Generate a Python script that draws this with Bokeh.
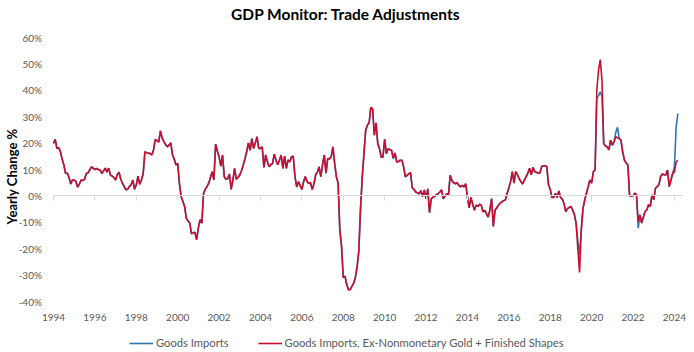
import numpy as np
from bokeh.plotting import figure
from bokeh.models import (ColumnDataSource, FixedTicker, LinearAxis, Legend, LegendItem,
                          PrintfTickFormatter, CustomJSTickFormatter, Label)
from bokeh.embed import file_html
from bokeh.resources import INLINE

title_text = "GDP Monitor: Trade Adjustments"
y_axis_title = "Yearly Change %"
series_names = ["Goods Imports", "Goods Imports, Ex-Nonmonetary Gold + Finished Shapes"]
year_ticks = list(range(1994, 2025, 2))
pct_ticks = [-40, -30, -20, -10, 0, 10, 20, 30, 40, 50, 60]
start_year = 1994

# Goods Imports, Ex-Nonmonetary Gold + Finished Shapes (yearly % change, monthly, Jan..Dec)
red_1994 = [19.9, 21.4, 17.9, 18.3, 16.7, 14.0, 11.7, 8.5, 8.7, 7.0, 4.5, 6.0]
red_1995 = [6.0, 5.5, 3.3, 4.5, 6.0, 5.8, 6.3, 8.5, 8.7, 9.8, 11.0, 10.5]
red_1996 = [10.0, 10.4, 10.0, 9.8, 8.5, 9.5, 10.5, 9.0, 10.5, 7.9, 7.5, 7.0]
red_1997 = [6.0, 8.0, 9.0, 6.3, 4.8, 3.5, 2.3, 2.5, 3.5, 4.2, 6.0, 2.5]
red_1998 = [4.2, 7.5, 4.4, 6.0, 8.5, 16.7, 16.4, 16.1, 16.1, 15.5, 17.4, 21.4]
red_1999 = [20.9, 20.4, 24.6, 22.0, 20.5, 19.5, 18.6, 19.2, 20.1, 15.5, 14.0, 11.7]
red_2000 = [12.3, 4.8, -0.3, -2.0, -4.0, -8.4, -9.5, -10.3, -14.3, -14.0, -13.8, -16.6]
red_2001 = [-12.0, -9.0, -10.3, 1.0, 2.5, 3.5, 4.8, 7.0, 9.2, 6.0, 19.6, 17.0]
red_2002 = [14.8, 11.3, 15.5, 7.3, 6.3, 6.5, 8.3, 2.5, 6.0, 10.4, 6.3, 7.0]
red_2003 = [7.9, 9.5, 11.7, 14.0, 16.7, 20.1, 17.3, 21.7, 18.0, 20.0, 22.4, 18.0]
red_2004 = [18.0, 18.6, 10.8, 15.5, 13.0, 11.0, 11.8, 12.3, 15.8, 13.5, 11.8, 13.5]
red_2005 = [15.5, 10.4, 15.1, 10.4, 13.6, 12.9, 14.8, 15.0, 7.3, 3.4, 5.4, 4.0]
red_2006 = [2.4, 5.4, 7.3, 5.5, 4.7, 5.0, 2.4, 4.5, 8.0, 9.0, 11.0, 7.3]
red_2007 = [11.8, 15.5, 8.6, 14.2, 14.0, 14.8, 18.6, 12.3, 7.3, 4.9, -12.8, -19.0]
red_2008 = [-31.0, -30.4, -33.6, -35.5, -35.5, -34.3, -33.0, -31.0, -27.0, -21.0, -5.0, 7.0]
red_2009 = [16.0, 24.9, 26.8, 27.7, 33.5, 33.0, 23.0, 27.7, 19.8, 17.9, 14.7, 14.7]
red_2010 = [21.4, 16.0, 17.9, 17.5, 17.3, 14.2, 16.3, 12.8, 13.0, 13.5, 13.5, 11.0]
red_2011 = [7.2, 7.8, 8.4, 8.8, 3.0, 2.5, 1.5, 1.2, 0.8, 2.0, -0.2, 2.3]
red_2012 = [-1.1, 2.7, -6.3, -1.1, -0.5, -0.2, 0.5, 0.8, 1.5, 2.3, -1.1, 0.0]
red_2013 = [0.8, 0.5, 7.8, 5.8, 5.0, 4.6, 5.0, 4.0, 3.4, 4.0, 3.4, 4.6]
red_2014 = [-0.6, -4.5, -0.6, -3.0, -5.4, -3.5, -4.0, -3.2, -3.5, -6.0, -5.5, -6.7]
red_2015 = [-8.0, -5.4, -1.0, -11.6, -5.4, -4.5, -3.5, -2.8, -2.2, -1.8, -1.5, 1.0]
red_2016 = [3.0, 5.4, 9.2, 4.8, 9.2, 8.0, 6.5, 5.4, 4.5, 6.0, 7.2, 8.6]
red_2017 = [10.5, 8.0, 10.8, 9.2, 9.0, 8.6, 8.7, 11.1, 11.4, 11.4, 11.1, 4.2]
red_2018 = [2.5, -0.6, -0.6, 1.0, -0.6, 1.9, -0.6, -1.2, -3.0, -6.0, -4.8, -4.4]
red_2019 = [-4.0, -5.4, -7.0, -10.4, -20.0, -29.0, -12.8, -4.7, -1.5, 1.0, 3.5, 6.0]
red_2020 = [4.8, 9.2, 9.8, 40.0, 47.6, 51.6, 43.8, 19.8, 18.9, 18.6, 17.4, 21.1]
red_2021 = [19.2, 20.5, 22.4, 22.0, 21.7, 21.1, 16.7, 13.6, 12.5, 11.7, 0.1, 0.0]
red_2022 = [0.0, 1.0, 0.5, -9.7, -7.2, -10.3, -8.0, -5.9, -5.3, -3.4, -4.0, 0.4]
red_2023 = [-1.5, 2.9, 3.5, 4.2, 7.3, 8.3, 8.0, 7.9, 9.8, 3.5, 6.0, 8.6]
red_2024 = [9.0, 12.9, 13.5]

# Goods Imports: same as above except in these months
blue_diff_months = ["2019-05", "2019-06", "2020-04", "2020-05", "2020-06", "2020-07",
                    "2021-03", "2021-04", "2022-04", "2024-01", "2024-02", "2024-03"]
blue_diff_values = [-17.0, -22.3, 37.0, 38.0, 39.4, 37.7, 24.0, 26.0, -12.2, 11.0, 26.2, 31.2]

red = np.array(red_1994 + red_1995 + red_1996 + red_1997 + red_1998 + red_1999 + red_2000
               + red_2001 + red_2002 + red_2003 + red_2004 + red_2005 + red_2006 + red_2007
               + red_2008 + red_2009 + red_2010 + red_2011 + red_2012 + red_2013 + red_2014
               + red_2015 + red_2016 + red_2017 + red_2018 + red_2019 + red_2020 + red_2021
               + red_2022 + red_2023 + red_2024, dtype=float)
blue = red.copy()
for ym, v in zip(blue_diff_months, blue_diff_values):
    yy, mm = ym.split("-")
    blue[(int(yy) - start_year) * 12 + int(mm) - 1] = v

x = start_year + np.arange(len(red)) / 12.0
src = ColumnDataSource(dict(x=x, red=red, blue=blue))

FONT = "Lato"
GRAY = "#595959"

# layout: the frame fills the whole canvas; axes are pinned at fixed locations.
# 1994 sits at x=53 px, 2024.39 at x=682 px; 60% at y=37 px, -40% at y=301 px.
W, H = 694, 352
PX_L, PX_R = 53, 682
Y_TOP_PX, Y_BOT_PX = 37, 301
xa, xb = 1994.0, 2024.39
ppy = (PX_R - PX_L) / (xb - xa)
ppp = (Y_BOT_PX - Y_TOP_PX) / (pct_ticks[-1] - pct_ticks[0])
x_lo = xa - PX_L / ppy
x_hi = xb + (W - PX_R) / ppy
y_hi = pct_ticks[-1] + Y_TOP_PX / ppp
y_lo = pct_ticks[0] - (H - Y_BOT_PX) / ppp


def px_to_x(px):
    return x_lo + px / ppy


def py_to_y(py):
    return y_hi - py / ppp


p = figure(width=W, height=H, x_range=(x_lo, x_hi), y_range=(y_lo, y_hi),
           output_backend="svg", toolbar_location=None, title=None,
           min_border_left=0, min_border_right=0, min_border_top=0, min_border_bottom=0,
           outline_line_color=None, background_fill_color="white", border_fill_color="white")
p.grid.visible = False

# percentage tick labels (right edge near x=41 px)
yax = p.yaxis[0]
yax.fixed_location = px_to_x(41.5)
yax.ticker = FixedTicker(ticks=pct_ticks)
yax.formatter = PrintfTickFormatter(format="%d%%")
yax.axis_line_color = None
yax.major_tick_line_color = None
yax.major_tick_out = 0
yax.major_tick_in = 0
yax.minor_tick_line_color = None
yax.major_label_text_font = FONT
yax.major_label_text_font_size = "10px"
yax.major_label_text_color = GRAY
yax.major_label_standoff = 0

# axis carrying only the rotated y-axis title
ytax = LinearAxis(fixed_location=px_to_x(18.5), ticker=FixedTicker(ticks=pct_ticks),
                  formatter=CustomJSTickFormatter(code="return ''"),
                  axis_line_color=None, major_tick_line_color=None, minor_tick_line_color=None,
                  major_tick_in=0, major_tick_out=0, major_label_standoff=0,
                  major_label_text_color=None,
                  axis_label=y_axis_title, axis_label_standoff=0,
                  axis_label_text_font=FONT, axis_label_text_font_style="bold",
                  axis_label_text_font_size="13px", axis_label_text_color="#000000")
p.add_layout(ytax, "left")

xax = p.xaxis[0]
xax.fixed_location = pct_ticks[0]
xax.ticker = FixedTicker(ticks=year_ticks)
xax.formatter = PrintfTickFormatter(format="%d")
xax.axis_line_color = None
xax.major_tick_line_color = None
xax.major_tick_out = 0
xax.major_tick_in = 0
xax.minor_tick_line_color = None
xax.major_label_text_font = FONT
xax.major_label_text_font_size = "10px"
xax.major_label_text_color = GRAY
xax.major_label_standoff = 12

zax = LinearAxis(fixed_location=0, bounds=(xa, xb), ticker=FixedTicker(ticks=year_ticks),
                 formatter=CustomJSTickFormatter(code="return ''"),
                 axis_line_color="#d9d9d9", major_tick_line_color="#d9d9d9",
                 major_tick_in=0, major_tick_out=5, minor_tick_line_color=None,
                 major_label_text_color=None)
p.add_layout(zax, "below")

rb = p.line("x", "blue", source=src, line_color="#2e75b6", line_width=1.6)
rr = p.line("x", "red", source=src, line_color="#c8102e", line_width=1.6)

title = Label(x=px_to_x(345.5), y=py_to_y(13), text=title_text,
              text_align="center", text_baseline="middle",
              text_font=FONT, text_font_style="bold", text_font_size="15.5px",
              text_color="#000000")
p.add_layout(title)

legend = Legend(items=[LegendItem(label=series_names[0], renderers=[rb]),
                       LegendItem(label=series_names[1], renderers=[rr])],
                orientation="horizontal", location=(129, 3),
                border_line_color=None, background_fill_alpha=0,
                label_text_font=FONT, label_text_font_size="11.2px", label_text_color=GRAY,
                glyph_width=24, glyph_height=12, label_height=12, label_standoff=3,
                spacing=29, padding=0, margin=0)
p.add_layout(legend)

open("out.html", "w").write(file_html(p, INLINE))
